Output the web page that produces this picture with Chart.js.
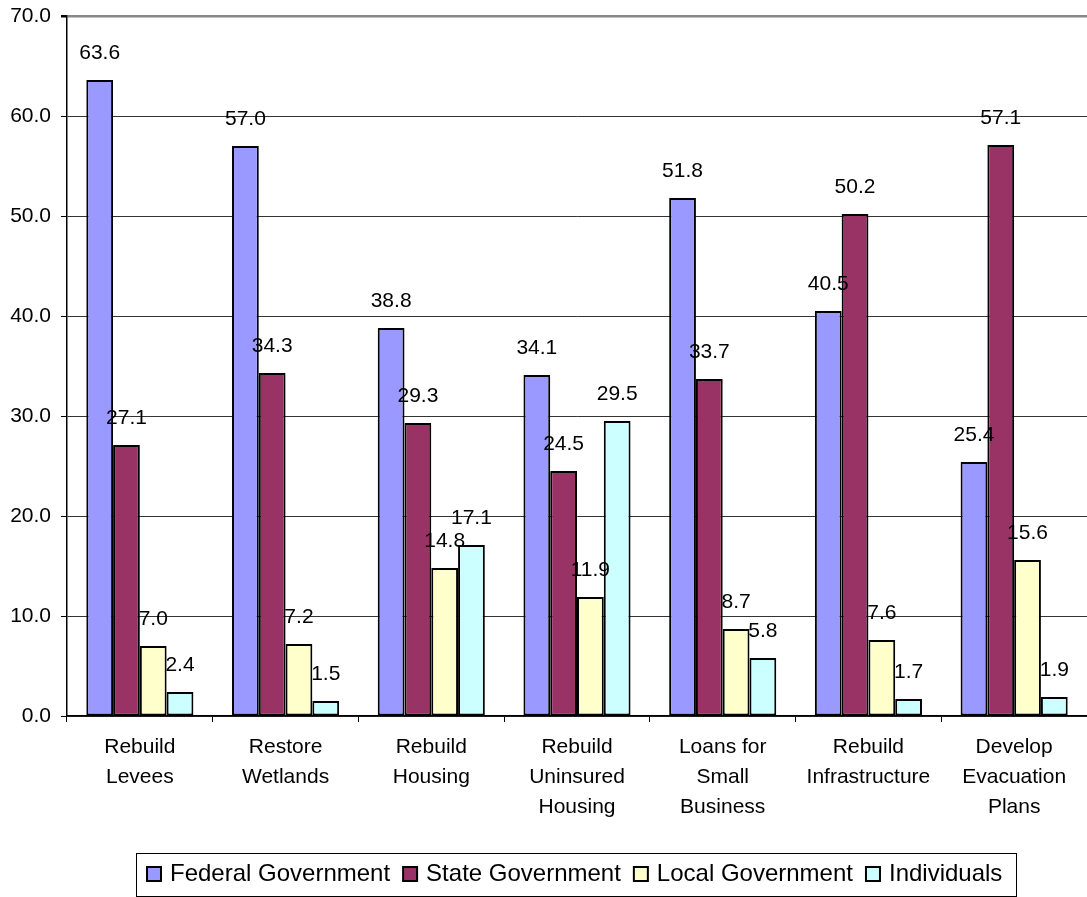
<!DOCTYPE html>
<html>
<head>
<meta charset="utf-8">
<script src="https://cdn.jsdelivr.net/npm/chart.js@4.4.0/dist/chart.umd.min.js"></script>
<style>
html,body{margin:0;padding:0;background:#fff;}
canvas{display:block;}
</style>
</head>
<body>
<canvas id="c" width="1087" height="897"></canvas>
<script>
const categories = [
  ["Rebuild","Levees"],
  ["Restore","Wetlands"],
  ["Rebuild","Housing"],
  ["Rebuild","Uninsured","Housing"],
  ["Loans for","Small","Business"],
  ["Rebuild","Infrastructure"],
  ["Develop","Evacuation","Plans"]
];
const seriesNames = ["Federal Government","State Government","Local Government","Individuals"];
const federal = [63.6, 57.0, 38.8, 34.1, 51.8, 40.5, 25.4];
const state = [27.1, 34.3, 29.3, 24.5, 33.7, 50.2, 57.1];
const local = [7.0, 7.2, 14.8, 11.9, 8.7, 7.6, 15.6];
const individuals = [2.4, 1.5, 17.1, 29.5, 5.8, 1.7, 1.9];
const yTicks = [0, 10, 20, 30, 40, 50, 60, 70];

const colors = ["#9999FF", "#993366", "#FFFFCC", "#CCFFFF"];
const FONT = "'Liberation Sans', Arial, Helvetica, sans-serif";
const seriesValues = [federal, state, local, individuals];

const labelPlugin = {
  id: 'valueLabels',
  afterDatasetsDraw(chart) {
    const ctx = chart.ctx;
    ctx.save();
    ctx.font = "21px " + FONT;
    ctx.fillStyle = "#000";
    ctx.textAlign = "center";
    ctx.textBaseline = "middle";
    chart.data.datasets.forEach((ds, i) => {
      const meta = chart.getDatasetMeta(i);
      meta.data.forEach((bar, j) => {
        ctx.fillText(ds.data[j].toFixed(1), bar.x, bar.y - 27);
      });
    });
    ctx.restore();
  }
};

const legendPlugin = {
  id: 'boxLegend',
  afterDraw(chart) {
    const ctx = chart.ctx;
    ctx.save();
    ctx.strokeStyle = "#000";
    ctx.lineWidth = 1;
    ctx.fillStyle = "#fff";
    ctx.fillRect(136.5, 853.5, 880, 43);
    ctx.strokeRect(136.5, 853.5, 880, 43);
    ctx.font = "24px " + FONT;
    ctx.textBaseline = "middle";
    ctx.textAlign = "left";
    let x = 147;
    const cy = 874;
    seriesNames.forEach((name, i) => {
      ctx.fillStyle = colors[i];
      ctx.fillRect(x, cy - 7, 14, 14);
      ctx.lineWidth = 2;
      ctx.strokeStyle = "#000";
      ctx.strokeRect(x, cy - 7, 14, 14);
      ctx.fillStyle = "#000";
      ctx.fillText(name, x + 23, cy);
      x += 23 + ctx.measureText(name).width + 13;
    });
    ctx.restore();
  }
};

new Chart(document.getElementById('c'), {
  type: 'bar',
  data: {
    labels: categories,
    datasets: seriesNames.map((n, i) => ({
      label: n,
      data: seriesValues[i],
      backgroundColor: colors[i],
      borderColor: "#000",
      borderWidth: 2,
      borderSkipped: false,
      categoryPercentage: 0.735,
      barPercentage: 1.0
    }))
  },
  options: {
    responsive: false,
    animation: false,
    devicePixelRatio: 1,
    layout: { padding: { left: 0, right: 0, top: 16, bottom: 61 } },
    plugins: {
      legend: { display: false },
      tooltip: { enabled: false }
    },
    scales: {
      x: {
        grid: {
          drawOnChartArea: false,
          drawTicks: true,
          tickLength: 6,
          color: "#000",
          offset: true
        },
        border: { color: "#000", width: 1.5 },
        ticks: {
          color: "#000",
          font: { family: FONT, size: 21, lineHeight: 1.43 },
          padding: 10,
          maxRotation: 0,
          autoSkip: false
        },
        afterFit(scale) { scale.height = 120; }
      },
      y: {
        min: 0,
        max: 70,
        afterBuildTicks(scale) { scale.ticks = yTicks.map(v => ({ value: v })); },
        grid: {
          color: (c) => (c.tick && c.tick.value === 70) ? "#888" : "#333",
          lineWidth: (c) => (c.tick && c.tick.value === 70) ? 2.5 : 1,
          tickLength: 6,
          tickColor: "#000"
        },
        border: { color: "#000", width: 1.5 },
        ticks: {
          color: "#000",
          font: { family: FONT, size: 21, lineHeight: 0.5 },
          padding: 10,
          callback: (v) => Number(v).toFixed(1)
        },
        afterFit(scale) { scale.width = 67; }
      }
    }
  },
  plugins: [labelPlugin, legendPlugin]
});
</script>
</body>
</html>
